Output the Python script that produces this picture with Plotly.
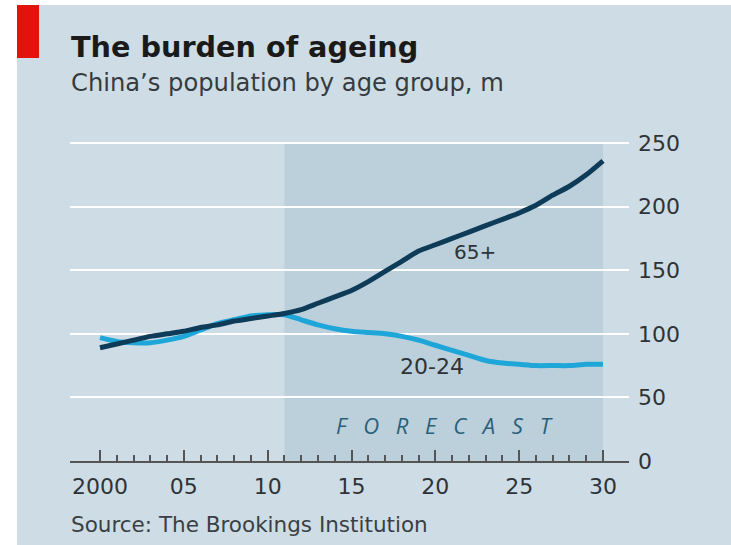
import plotly.graph_objects as go

# China's population by age group, millions
years = list(range(2000, 2031))
age_65_plus = [89, 92, 95, 98, 100, 102, 105, 107, 110, 112, 114, 116, 119, 124, 129, 134,
               141, 149, 157, 165, 170, 175, 180, 185, 190, 195, 201, 209, 216, 225, 236]
age_20_24 = [97, 94, 93, 93, 95, 98, 103, 108, 111, 114, 115, 115, 111, 107, 104, 102,
             101, 100, 98, 95, 91, 87, 83, 79, 77, 76, 75, 75, 75, 76, 76]

forecast_start, forecast_end = 2011, 2030
y_ticks = [0, 50, 100, 150, 200, 250]
x_ticks = [2000, 2005, 2010, 2015, 2020, 2025, 2030]
x_ticklabels = ["2000", "05", "10", "15", "20", "25", "30"]

W, H = 731, 545
L, R, T, B = 70, 102, 130, 84   # plot-area margins in pixels
PW, PH = W - L - R, H - T - B

BG = "#cedde5"
SHADE = "#bcd0dc"
DARK = "#0e3b58"
LIGHT = "#1fa6d9"
TEXT = "#2e3338"
FONT = "DejaVu Sans"


def px_x(px):
    return (px - L) / PW


def px_y(py):
    return (H - B - py) / PH


fig = go.Figure()

fig.add_trace(go.Scatter(x=years, y=age_20_24, mode="lines", name="20-24",
                         line=dict(color=LIGHT, width=5, shape="spline", smoothing=0.6)))
fig.add_trace(go.Scatter(x=years, y=age_65_plus, mode="lines", name="65+",
                         line=dict(color=DARK, width=5, shape="spline", smoothing=0.6)))

shapes = [
    # panel background and red tag
    dict(type="rect", xref="paper", yref="paper", x0=px_x(17), x1=px_x(W), y0=px_y(H), y1=px_y(5),
         fillcolor=BG, line_width=0, layer="below"),
    dict(type="rect", xref="paper", yref="paper", x0=px_x(17), x1=px_x(39), y0=px_y(58), y1=px_y(5),
         fillcolor="#e3120b", line_width=0, layer="below"),
    # forecast period
    dict(type="rect", xref="x", yref="y", x0=forecast_start, x1=forecast_end, y0=0, y1=y_ticks[-1],
         fillcolor=SHADE, line_width=0, layer="below"),
]

annotations = [
    dict(text="<b>The burden of ageing</b>", x=px_x(69), y=px_y(47), xref="paper", yref="paper",
         xanchor="left", yanchor="middle", showarrow=False, font=dict(size=28.7, color="#1a1a1a", family=FONT)),
    dict(text="China’s population by age group, m", x=px_x(69), y=px_y(83), xref="paper", yref="paper",
         xanchor="left", yanchor="middle", showarrow=False, font=dict(size=24.2, color="#363b40", family=FONT)),
    dict(text="Source: The Brookings Institution", x=px_x(69), y=px_y(524), xref="paper", yref="paper",
         xanchor="left", yanchor="middle", showarrow=False, font=dict(size=21.5, color="#3a3f44", family=FONT)),
    dict(text="65+", x=2022.36, y=164.5, xref="x", yref="y", showarrow=False,
         font=dict(size=20, color=TEXT, family=FONT)),
    dict(text="20-24", x=2019.83, y=74.3, xref="x", yref="y", showarrow=False,
         font=dict(size=22, color=TEXT, family=FONT)),
    dict(text="<i>F\u2002 O\u2002 R\u2002 E\u2002 C\u2002 A\u2002 S\u2002 T</i>", x=2020.57, y=28.3,
         xref="x", yref="y", showarrow=False, font=dict(size=22, color="#2a6079", family="Open Sans")),
]

fig.update_layout(
    width=W, height=H,
    margin=dict(l=L, r=R, t=T, b=B, pad=0),
    paper_bgcolor="white",
    plot_bgcolor="rgba(0,0,0,0)",
    showlegend=False,
    shapes=shapes,
    annotations=annotations,
    font=dict(family=FONT, color=TEXT),
)

x_lo = 2000 - 30 / 16.77
x_hi = 2030 + 26 / 16.77
fig.update_xaxes(
    range=[x_lo, x_hi], showgrid=False, zeroline=False,
    showline=True, linecolor="#555555", linewidth=2,
    tickmode="array", tickvals=x_ticks, ticktext=x_ticklabels,
    ticks="inside", ticklen=11, tickwidth=2, tickcolor="#555555",
    minor=dict(tickmode="array", tickvals=[y for y in years if y not in x_ticks],
               ticks="inside", ticklen=6, tickwidth=2, tickcolor="#555555", showgrid=False),
    tickfont=dict(size=22, color=TEXT, family=FONT),
    ticklabelstandoff=5,
)
fig.update_yaxes(
    range=[0, 250 + 13 / 1.272], side="right", showline=False, zeroline=False,
    tickmode="array", tickvals=y_ticks, ticks="",
    showgrid=True, gridcolor="white", gridwidth=2,
    tickfont=dict(size=22, color=TEXT, family=FONT),
    ticklabelstandoff=8,
)

fig.write_html("out.html")
